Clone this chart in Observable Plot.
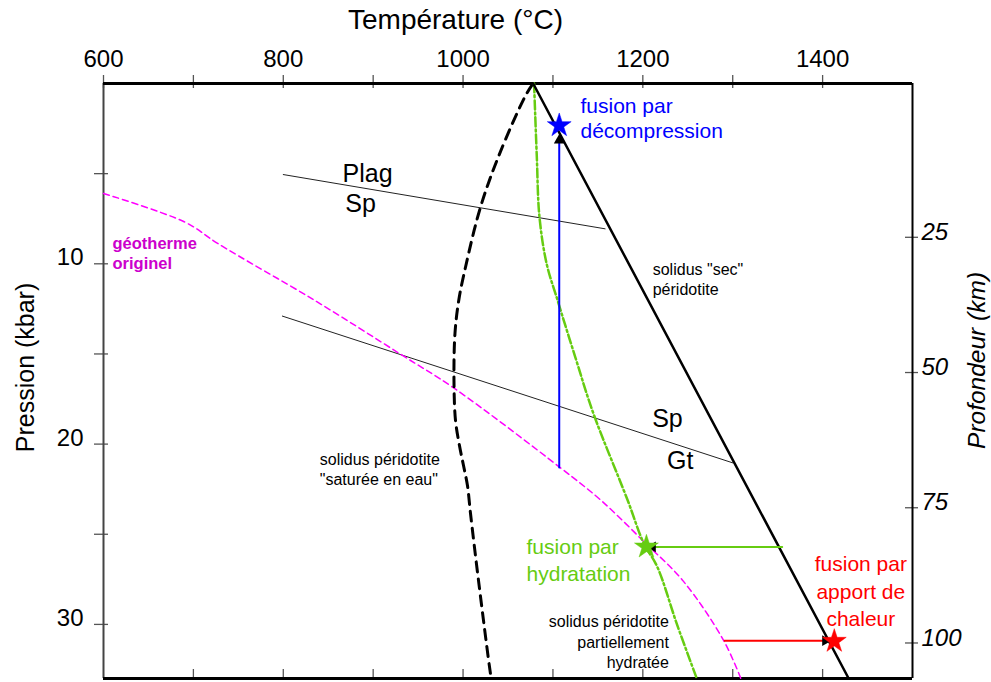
<!DOCTYPE html>
<html><head><meta charset="utf-8">
<script src="https://cdn.jsdelivr.net/npm/d3@7"></script>
<script src="https://cdn.jsdelivr.net/npm/@observablehq/plot@0.6"></script>
<style>html,body{margin:0;padding:0;background:#fff;} svg{display:block}</style>
</head><body><div id="chart"></div>
<script>
// ---- axes ----
const tempTicks = [600, 800, 1000, 1200, 1400];
const tempMinorTicks = [600, 700, 800, 900, 1000, 1100, 1200, 1300, 1400];
const tempBottomTicks = [700, 800, 900, 1000, 1100, 1200, 1300, 1400];
const pressTicks = [10, 20, 30];
const pressMinorTicks = [5, 10, 15, 20, 25, 30];
const depthTicks = [25, 50, 75, 100];
const depthToP = d => 1.03 + 0.3 * d;

// ---- curves (T in °C, P in kbar) ----
const drySolidusT = [1078, 1429];
const drySolidusP = [0, 33];
const wetSolidusT = [1077.3, 1069.5, 1039.8, 1019.4, 1002.7, 995.2, 991, 989.9, 991.6, 996, 1000.5, 1004.9, 1008.3, 1017.2, 1030.5, 1031.5];
const wetSolidusP = [0.05, 0.67, 4.0, 6.86, 10.19, 12.03, 13.87, 16.47, 18.69, 20.08, 21.19, 22.3, 23.85, 27.57, 32.73, 33];
const hydSolidusT = [1079, 1082, 1085, 1093, 1105, 1125, 1145, 1183, 1201, 1216, 1238, 1260];
const hydSolidusP = [0, 4, 7.4, 10, 12, 15.2, 18.3, 23.1, 25.5, 26.8, 30, 33];
const geothermT = [600, 691, 728, 834, 930, 990, 1108, 1153, 1201, 1245, 1290, 1309];
const geothermP = [6.1, 7.7, 8.9, 12.0, 15.0, 16.9, 21.3, 23.1, 25.4, 27.6, 30.9, 33];
const plagSpT = [800, 1158];
const plagSpP = [5.05, 8.06];
const spGtT = [799, 1300];
const spGtP = [12.9, 21.04];

// ---- melting paths ----
const decompT = [1107, 1107];
const decompP = [21.3, 3.0];
const hydrationT = [1355, 1208];
const hydrationP = [25.7, 25.7];
const heatT = [1291, 1405];
const heatP = [30.9, 30.9];
const starT = [1107, 1204, 1413];
const starP = [2.33, 25.7, 30.93];
const starColor = ["#0000ff", "#66cc11", "#ff0000"];
const headT = [1107, 1211, 1403];
const headP = [3.15, 25.7, 30.9];
const headAngle = [0, -90, 90];

// ---- annotations ----
const notes = [
  {id: "decomp", text: "fusion par\ndécompression", T: 1130.6, P: 1.91},
  {id: "plag", text: "Plag", T: 866, P: 5.0},
  {id: "sp1", text: "Sp", T: 869, P: 6.67},
  {id: "sec", text: "solidus \"sec\"\npéridotite", T: 1211, P: 10.84},
  {id: "geo", text: "géotherme\noriginel", T: 610, P: 9.36},
  {id: "sp2", text: "Sp", T: 1210.4, P: 18.6},
  {id: "gt", text: "Gt", T: 1227, P: 20.91},
  {id: "wet", text: "solidus péridotite\n\"saturée en eau\"", T: 840.6, P: 21.37},
  {id: "hyd", text: "fusion par\nhydratation", T: 1070.6, P: 26.36},
  {id: "part", text: "solidus péridotite\npartiellement\nhydratée", T: 1229, P: 30.92},
  {id: "heat", text: "fusion par\napport de\nchaleur", T: 1442.5, P: 28.1}
];
const note = id => notes.filter(d => d.id === id);

const chart = Plot.plot({
  width: 991, height: 682,
  marginTop: 83, marginBottom: 4, marginLeft: 103, marginRight: 79,
  style: {fontFamily: "'Liberation Sans', Arial, sans-serif", background: "#fff", color: "#000", overflow: "visible"},
  x: {domain: [600, 1500]},
  y: {domain: [0, 33], reverse: true},
  marks: [
    // tick marks
    Plot.ruleX(tempMinorTicks, {x: d => d, y1: 0, y2: 0, insetTop: -8, insetBottom: -5, stroke: "#555", strokeWidth: 1.3}),
    Plot.ruleX(tempBottomTicks, {x: d => d, y1: 33, y2: 33, insetTop: -9, insetBottom: 0, stroke: "#555", strokeWidth: 1.3}),
    Plot.ruleY(pressMinorTicks, {y: d => d, x1: 600, x2: 600, insetLeft: -9, insetRight: -5, stroke: "#555", strokeWidth: 1.3}),
    Plot.ruleY(depthTicks.map(depthToP), {y: d => d, x1: 1500, x2: 1500, insetLeft: -7, insetRight: -6, stroke: "#555", strokeWidth: 1.3}),
    // frame
    Plot.ruleX([600], {stroke: "#444", strokeWidth: 2}),
    Plot.ruleX([1500], {stroke: "#000", strokeWidth: 2}),
    Plot.ruleY([0], {stroke: "#000", strokeWidth: 3}),
    Plot.ruleY([33], {stroke: "#000", strokeWidth: 3}),
    // axes labels
    Plot.axisX(tempTicks, {anchor: "top", tickSize: 0, tickPadding: 17, fontSize: 24, label: null, tickFormat: d => String(d)}),
    Plot.axisY(pressTicks, {anchor: "left", tickSize: 0, tickPadding: 20, fontSize: 24, dy: -6, label: null, tickFormat: d => String(d)}),
    Plot.axisY(depthTicks.map(depthToP), {anchor: "right", tickSize: 0, tickPadding: 9, fontSize: 24, fontStyle: "italic", dy: -5,
      tickFormat: p => String(Math.round((p - 1.03) / 0.3)), label: null}),
    Plot.text(["Température (°C)"], {x: 991.6, frameAnchor: "top", lineAnchor: "middle", textAnchor: "middle", dy: -63, fontSize: 28, fill: "#000"}),
    Plot.text(["Pression (kbar)"], {y: 15.75, frameAnchor: "left", textAnchor: "middle", lineAnchor: "middle", dx: -78, rotate: -90, fontSize: 25, fill: "#000"}),
    Plot.text(["Profondeur (km)"], {y: 15.36, frameAnchor: "right", textAnchor: "middle", lineAnchor: "middle", dx: 65, rotate: -90, fontSize: 24.5, fontStyle: "italic", fill: "#000"}),
    // phase boundaries
    Plot.line(plagSpT, {x: plagSpT, y: plagSpP, stroke: "#222", strokeWidth: 1}),
    Plot.line(spGtT, {x: spGtT, y: spGtP, stroke: "#222", strokeWidth: 1}),
    // curves
    Plot.line(geothermT, {x: geothermT, y: geothermP, stroke: "#ff00ff", strokeWidth: 1.5, strokeDasharray: "6,4", curve: "catmull-rom"}),
    Plot.line(wetSolidusT, {x: wetSolidusT, y: wetSolidusP, stroke: "#000", strokeWidth: 3, strokeDasharray: "10,7", curve: "catmull-rom"}),
    Plot.line(hydSolidusT, {x: hydSolidusT, y: hydSolidusP, stroke: "#66cc11", strokeWidth: 2.5, strokeDasharray: "9,3,2,3", curve: "catmull-rom"}),
    Plot.line(drySolidusT, {x: drySolidusT, y: drySolidusP, stroke: "#000", strokeWidth: 2.5}),
    // melting paths
    Plot.line(decompT, {x: decompT, y: decompP, stroke: "#0000ff", strokeWidth: 2}),
    Plot.line(hydrationT, {x: hydrationT, y: hydrationP, stroke: "#66cc11", strokeWidth: 2}),
    Plot.line(heatT, {x: heatT, y: heatP, stroke: "#ff0000", strokeWidth: 2}),
    Plot.dot(headT, {x: headT, y: headP, symbol: "triangle", r: 4, fill: "#000", rotate: headAngle}),
    Plot.dot(starT, {x: starT, y: starP, symbol: "star", r: 7.5, fill: starColor, stroke: starColor, strokeWidth: 0.5}),
    // annotations
    Plot.text(note("decomp"), {x: "T", y: "P", text: "text", textAnchor: "start", fontSize: 21, lineHeight: 1.19, fill: "#0000ff"}),
    Plot.text(note("plag").concat(note("sp1"), note("sp2"), note("gt")), {x: "T", y: "P", text: "text", textAnchor: "start", fontSize: 25, fill: "#000"}),
    Plot.text(note("sec").concat(note("wet")), {x: "T", y: "P", text: "text", textAnchor: "start", fontSize: 16, lineHeight: 1.25, fill: "#000"}),
    Plot.text(note("geo"), {x: "T", y: "P", text: "text", textAnchor: "start", fontSize: 16.5, fontWeight: "bold", lineHeight: 1.21, fill: "#cc00cc"}),
    Plot.text(note("hyd"), {x: "T", y: "P", text: "text", textAnchor: "start", fontSize: 21, lineHeight: 1.27, fill: "#66cc11"}),
    Plot.text(note("part"), {x: "T", y: "P", text: "text", textAnchor: "end", fontSize: 16, lineHeight: 1.27, fill: "#000"}),
    Plot.text(note("heat"), {x: "T", y: "P", text: "text", textAnchor: "middle", fontSize: 21, lineHeight: 1.31, fill: "#ff0000"})
  ]
});
document.getElementById("chart").append(chart);
</script>
</body></html>
